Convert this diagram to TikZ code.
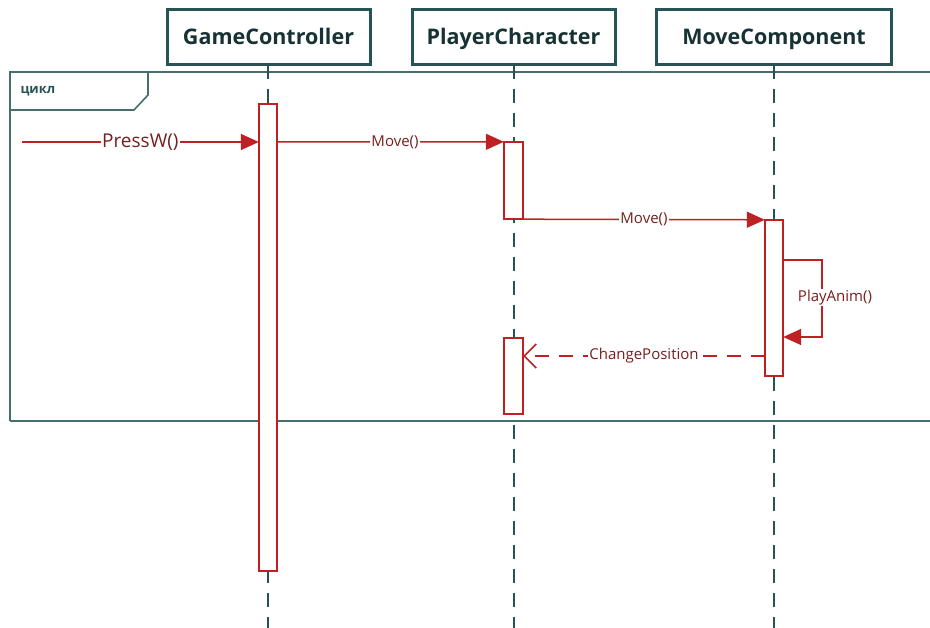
\documentclass[tikz,border=0pt]{standalone}
\usepackage{fontspec}
\setmainfont{Open Sans}
\usetikzlibrary{arrows.meta}
\definecolor{teal1}{RGB}{38,84,86}
\definecolor{msgred}{RGB}{190,32,36}
\definecolor{lbltxt}{RGB}{120,30,30}
\tikzset{
  header/.style={draw=teal1, line width=3pt, minimum width=203pt, minimum height=55pt,
    text height=18pt, text depth=2pt,
    font=\fontsize{21.5}{24}\selectfont\bfseries, text=teal1!60!black, fill=white},
  lifeline/.style={draw=teal1, line width=1.6pt, dash pattern=on 14pt off 10pt},
  actbar/.style={draw=msgred, line width=1.4pt, fill=white},
  msg/.style={draw=msgred, line width=1.5pt, -{Triangle[length=18pt,width=16pt]}},
  reply/.style={draw=msgred, line width=1.5pt, dash pattern=on 14pt off 10pt,
    -{Straight Barb[length=12pt,width=24pt,line width=1.5pt]}},
  msglabel/.style={fill=white, inner sep=1pt, text=lbltxt, font=\fontsize{15}{17}\selectfont},
  frameline/.style={draw=teal1!85, line width=1.6pt}
}
\begin{document}
\begin{tikzpicture}[x=1pt,y=-1pt]
\useasboundingbox (0,0) rectangle (930,628);

% combined fragment frame (loop)
\draw[frameline] (10,421) -- (10,72) -- (932,72);
\draw[frameline] (10,421) -- (932,421);
\draw[frameline] (10,110) -- (134,110) -- (148,95) -- (148,72);
\node[anchor=west, text=teal1, font=\fontsize{13}{15}\selectfont\bfseries] (looplbl) at (17,91) {цикл};

% lifelines
\coordinate (gcTop) at (268,65);
\coordinate (gcBot) at (268,628);
\coordinate (pcTop) at (514,65);
\coordinate (pcBot) at (514,628);
\coordinate (mcTop) at (774,65);
\coordinate (mcBot) at (774,628);
\draw[lifeline] (gcTop) -- (gcBot);
\draw[lifeline] (pcTop) -- (pcBot);
\draw[lifeline] (mcTop) -- (mcBot);

% participant headers
\node[header] (gc) at (268.5,37) {GameController};
\node[header] (pc) at (513.5,37) {PlayerCharacter};
\node[header, minimum width=235pt] (mc) at (774,37) {MoveComponent};

% activation bars
\draw[actbar] (259,104) rectangle (277,571);
\node[inner sep=0, minimum width=18pt, minimum height=467pt] (gcAct) at (268,337.5) {};
\draw[actbar] (504,142) rectangle (523,219);
\node[inner sep=0, minimum width=19pt, minimum height=77pt] (pcAct1) at (513.5,180.5) {};
\draw[actbar] (504,338) rectangle (523,414);
\node[inner sep=0, minimum width=19pt, minimum height=76pt] (pcAct2) at (513.5,376) {};
\draw[actbar] (765,220) rectangle (783,376);
\node[inner sep=0, minimum width=18pt, minimum height=156pt] (mcAct) at (774,298) {};

% messages
\coordinate (src) at (22,142);
\draw[msg] (src) -- (gcAct.west |- src)
  node[pos=0.5, msglabel, font=\fontsize{19}{22}\selectfont] (lPress) {PressW()};
\coordinate (m1) at (277,142);
\draw[msg] (gcAct.east |- m1) -- (pcAct1.north west)
  node[pos=0.52, msglabel] (lMove1) {Move()};
\draw[msg] (pcAct1.south east) -- (mcAct.north west)
  node[pos=0.5, msglabel] (lMove2) {Move()};

% self call
\coordinate (s1) at (783,260);
\coordinate (s2) at (822,260);
\coordinate (s3) at (822,337);
\coordinate (s4) at (783,337);
\draw[msg] (mcAct.east |- s1) -- (s2) -- (s3) -- (mcAct.east |- s4);
\node[msglabel] (lPlay) at (835,298) {PlayAnim()};

% reply
\coordinate (r1) at (765,356);
\draw[reply] (mcAct.west |- r1) -- (pcAct2.east |- r1)
  node[pos=0.5, msglabel] (lChange) {ChangePosition};
\end{tikzpicture}
\end{document}
